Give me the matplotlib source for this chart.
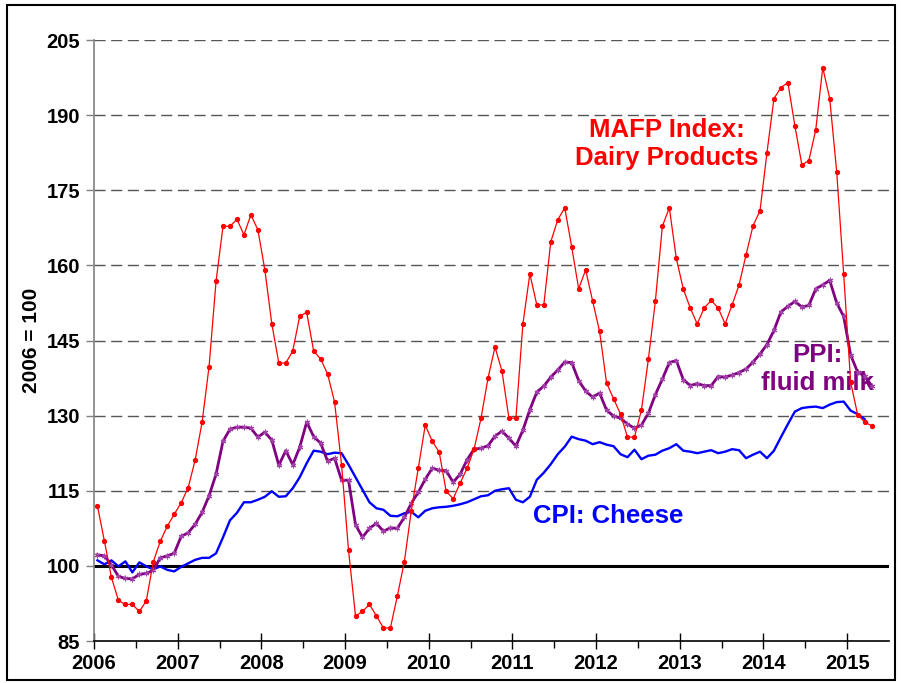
import numpy as np
import matplotlib
matplotlib.use("Agg")
from matplotlib import pyplot as plt
from matplotlib.patches import Rectangle

plt.rcParams['font.family'] = ['Liberation Sans', 'DejaVu Sans']
plt.rcParams['font.weight'] = 'bold'

# monthly values, Jan 2006 onwards (2006 = 100)
mafp_dairy = [
    111.9, 104.9, 97.7, 93.1, 92.3, 92.3, 90.9, 93.0, 100.8, 104.9, 107.9, 110.3,
    112.6, 115.6, 121.1, 128.7, 139.8, 156.8, 167.8, 167.8, 169.2, 166.1, 170.1, 167.1,
    159.1, 148.3, 140.5, 140.5, 142.9, 149.9, 150.6, 142.9, 141.3, 138.3, 132.7, 120.2,
    103.1, 90.0, 90.9, 92.3, 90.0, 87.6, 87.6, 94.0, 100.8, 111.0, 119.5, 128.1,
    124.9, 122.7, 114.9, 113.4, 116.5, 119.5, 123.3, 129.5, 137.5, 143.7, 138.9, 129.5,
    129.5, 148.3, 158.3, 152.1, 152.1, 164.7, 169.1, 171.5, 163.7, 155.3, 159.1, 152.9,
    146.8, 136.5, 133.4, 130.3, 125.7, 125.7, 131.1, 141.3, 152.9, 167.8, 171.5, 161.4,
    155.3, 151.5, 148.3, 151.5, 153.0, 151.5, 148.3, 152.1, 156.1, 162.1, 167.9, 170.9,
    182.5, 193.3, 195.5, 196.5, 187.9, 180.1, 180.9, 187.1, 199.5, 193.3, 178.7, 158.3,
    136.7, 130.2, 128.7, 128.0,
]
ppi_milk = [
    102.2, 102.0, 100.2, 97.9, 97.5, 97.4, 98.3, 98.5, 99.1, 101.6, 102.0, 102.5,
    105.9, 106.6, 108.3, 110.7, 114.0, 118.3, 124.9, 127.3, 127.7, 127.7, 127.5, 125.7,
    126.7, 125.1, 120.1, 123.0, 120.2, 123.7, 128.7, 125.8, 124.5, 120.9, 121.5, 117.1,
    117.1, 108.2, 105.7, 107.5, 108.5, 106.9, 107.6, 107.5, 109.7, 112.5, 114.7, 117.3,
    119.5, 119.1, 119.0, 116.7, 118.3, 121.2, 123.3, 123.5, 124.0, 125.9, 126.9, 125.5,
    123.9, 127.1, 131.2, 134.7, 135.9, 137.7, 139.1, 140.7, 140.6, 137.0, 134.9, 133.7,
    134.5, 131.1, 129.9, 129.5, 128.3, 127.5, 128.1, 130.5, 134.2, 137.3, 140.6, 141.0,
    137.2, 136.0, 136.4, 136.0, 136.0, 137.8, 137.7, 138.1, 138.6, 139.3, 140.7, 142.3,
    144.2, 147.0, 150.7, 151.8, 152.8, 151.7, 152.0, 155.3, 156.1, 157.0, 152.5, 149.8,
    142.1, 138.7, 137.9, 136.0,
]
cpi_cheese = [
    101.1, 100.3, 101.1, 99.9, 100.9, 98.7, 100.7, 99.9, 99.3, 99.9, 99.2, 98.9,
    99.8, 100.5, 101.2, 101.6, 101.6, 102.5, 105.7, 109.1, 110.6, 112.7, 112.7, 113.2,
    113.8, 114.9, 113.8, 113.9, 115.5, 117.7, 120.5, 123.0, 122.8, 122.3, 122.6, 122.5,
    120.2, 117.7, 115.2, 112.7, 111.5, 111.2, 110.0, 109.9, 110.5, 110.8, 109.7, 111.0,
    111.5, 111.7, 111.8, 112.0, 112.3, 112.7, 113.3, 113.9, 114.1, 115.0, 115.3, 115.5,
    113.2, 112.7, 113.8, 117.2, 118.6, 120.3, 122.3, 123.8, 125.8, 125.3, 125.0, 124.3,
    124.7, 124.2, 123.9, 122.3, 121.7, 123.2, 121.3, 122.0, 122.2, 123.0, 123.5, 124.3,
    123.0, 122.8, 122.5, 122.8, 123.1, 122.5, 122.8, 123.3, 123.1, 121.5, 122.2, 122.8,
    121.5, 123.0, 125.7, 128.3, 130.8, 131.5, 131.7, 131.8, 131.5, 132.2, 132.7, 132.8,
    131.0, 130.3, 129.3,
]
year_ticks = list(range(2006, 2016))
y_ticks = [85, 100, 115, 130, 145, 160, 175, 190, 205]


def month_x(vals):
    # plot each month at its mid point
    return 2006 + (np.arange(len(vals)) + 0.5) / 12


fig = plt.figure(figsize=(9.01, 6.83), dpi=100)
ax = fig.add_axes([94 / 901, 1 - 641 / 683, (889 - 94) / 901, (641 - 40) / 683])

for y in y_ticks[2:]:
    ax.axhline(y, color='#555555', lw=1.0, ls=(0, (8, 4)), zorder=1)
ax.axhline(100, color='black', lw=2.2, zorder=2)

ax.plot(month_x(cpi_cheese), cpi_cheese, color='#0000ff', lw=1.7, zorder=3)
ax.plot(month_x(ppi_milk), ppi_milk, color='#800080', lw=2.0, zorder=4,
        marker=(6, 2, 0), ms=4, mec='#a040a8', mew=0.8)
ax.plot(month_x(mafp_dairy), mafp_dairy, color='#ff0000', lw=0.9, zorder=5,
        marker='o', ms=2.8, mec='#ff0000', mfc='#ff0000')

ax.set_xlim(2006, 2015.5)
ax.set_ylim(85, 205)
ax.set_xticks(year_ticks)
ax.set_xticks(np.arange(2006.5, 2015.5, 1), minor=True)
ax.set_yticks(y_ticks)
ax.tick_params(axis='x', which='major', direction='inout', length=11, width=1, labelsize=14.5, pad=4)
ax.tick_params(axis='x', which='minor', direction='out', length=5, width=1)
ax.tick_params(axis='y', direction='out', length=6, width=1, color='#808080', labelsize=14.5, pad=4)
for lab in ax.get_xticklabels() + ax.get_yticklabels():
    lab.set_fontweight('bold')

ax.spines['top'].set_visible(False)
ax.spines['right'].set_visible(False)
ax.spines['left'].set_color('#808080')
ax.spines['left'].set_linewidth(1.2)
ax.spines['bottom'].set_linewidth(1.2)

ax.set_ylabel("2006 = 100", fontsize=15, fontweight='bold', labelpad=4)

ax.text(2012.84, 184.2, "MAFP Index:\nDairy Products", color='#ff0000', fontsize=18.5,
        fontweight='bold', ha='center', va='center', linespacing=1.2)
ax.text(2014.64, 139.3, "PPI:\nfluid milk", color='#800080', fontsize=18.5,
        fontweight='bold', ha='center', va='center', linespacing=1.2)
ax.text(2012.14, 110, "CPI: Cheese", color='#0000ff', fontsize=18.5,
        fontweight='bold', ha='center', va='center')

fig.patches.append(Rectangle((7 / 901, 3 / 683), 888 / 901, 675 / 683, transform=fig.transFigure,
                             fill=False, edgecolor='black', lw=1.5))

fig.savefig("out.png", dpi=100)
